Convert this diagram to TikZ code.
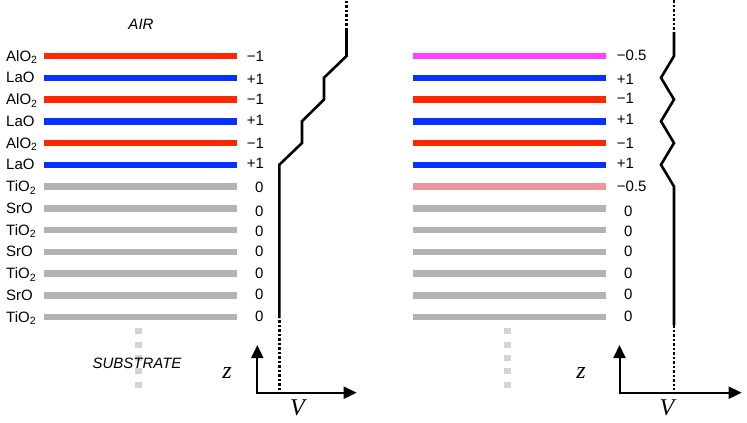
\documentclass[tikz,border=0pt]{standalone}
\usepackage{fontspec}
\setmainfont{Liberation Sans}
\newfontfamily\varfont{Liberation Serif}
\usepackage{xcolor}
\usepackage{tikz}
\usetikzlibrary{arrows.meta}

\definecolor{alored}{RGB}{255,38,0}
\definecolor{laoblue}{RGB}{4,51,255}
\definecolor{halfmag}{RGB}{255,64,255}
\definecolor{halfpink}{RGB}{239,148,155}
\definecolor{stogray}{RGB}{179,179,179}
\definecolor{subgray}{RGB}{212,212,212}

\begin{document}
\begin{tikzpicture}[
  x=1pt, y=-1pt,
  layer/.style={line width=6.5pt},
  film/.style={font=\fontsize{15}{17}\selectfont, anchor=base west, inner sep=0pt},
  charge/.style={font=\fontsize{15}{17}\selectfont, anchor=base west, inner sep=0pt},
  tag/.style={font=\fontsize{15}{17}\selectfont\itshape, anchor=base, inner sep=0pt},
  var/.style={font=\varfont\itshape\fontsize{24}{26}\selectfont, anchor=base, inner sep=0pt},
  pot/.style={line width=2.6pt, line join=miter},
  potdot/.style={line width=2.6pt, dash pattern=on 2.5pt off 2pt},
  sub/.style={line width=6.5pt, subgray, dash pattern=on 6pt off 7.3pt},
  axis/.style={line width=2pt, {Triangle[length=13pt,width=12pt]}-{Triangle[length=13pt,width=12pt]}}
]
\useasboundingbox (0,0) rectangle (747,423);

% Substrate continuation
\draw[sub] (138.7,328.3) -- (138.7,390);
\draw[sub] (507.5,328.3) -- (507.5,390);

% Left stack: layers
\draw[layer, alored]  (44.3,56)     -- (236.7,56);
\draw[layer, laoblue] (44.3,77.75)  -- (236.7,77.75);
\draw[layer, alored]  (44.3,99.5)   -- (236.7,99.5);
\draw[layer, laoblue] (44.3,121.25) -- (236.7,121.25);
\draw[layer, alored]  (44.3,143)    -- (236.7,143);
\draw[layer, laoblue] (44.3,164.75) -- (236.7,164.75);
\draw[layer, stogray] (44.3,186.5)  -- (236.7,186.5);
\draw[layer, stogray] (44.3,208.25) -- (236.7,208.25);
\draw[layer, stogray] (44.3,230)    -- (236.7,230);
\draw[layer, stogray] (44.3,251.75) -- (236.7,251.75);
\draw[layer, stogray] (44.3,273.5)  -- (236.7,273.5);
\draw[layer, stogray] (44.3,295.25) -- (236.7,295.25);
\draw[layer, stogray] (44.3,317)    -- (236.7,317);

% Right stack: layers
\draw[layer, halfmag]   (413.3,56)     -- (605.7,56);
\draw[layer, laoblue]   (413.3,77.75)  -- (605.7,77.75);
\draw[layer, alored]    (413.3,99.5)   -- (605.7,99.5);
\draw[layer, laoblue]   (413.3,121.25) -- (605.7,121.25);
\draw[layer, alored]    (413.3,143)    -- (605.7,143);
\draw[layer, laoblue]   (413.3,164.75) -- (605.7,164.75);
\draw[layer, halfpink]  (413.3,186.5)  -- (605.7,186.5);
\draw[layer, stogray]   (413.3,208.25) -- (605.7,208.25);
\draw[layer, stogray]   (413.3,230)    -- (605.7,230);
\draw[layer, stogray]   (413.3,251.75) -- (605.7,251.75);
\draw[layer, stogray]   (413.3,273.5)  -- (605.7,273.5);
\draw[layer, stogray]   (413.3,295.25) -- (605.7,295.25);
\draw[layer, stogray]   (413.3,317)    -- (605.7,317);

% Layer names
\node[film] (alo1) at (6,61.5)  {AlO\textsubscript{2}};
\node[film] (lao1) at (6,82.9)  {LaO};
\node[film] (alo2) at (6,104.8) {AlO\textsubscript{2}};
\node[film] (lao2) at (6,126.4) {LaO};
\node[film] (alo3) at (6,148.3) {AlO\textsubscript{2}};
\node[film] (lao3) at (6,169.9) {LaO};
\node[film] (tio1) at (6,191.8) {TiO\textsubscript{2}};
\node[film] (sro1) at (6,213.4) {SrO};
\node[film] (tio2) at (6,235.3) {TiO\textsubscript{2}};
\node[film] (sro2) at (6,256.9) {SrO};
\node[film] (tio3) at (6,278.8) {TiO\textsubscript{2}};
\node[film] (sro3) at (6,300.4) {SrO};
\node[film] (tio4) at (6,322.3) {TiO\textsubscript{2}};

% Left charges
\node[charge] (qa1) at (246.7,61.7)  {−1};
\node[charge] (qa2) at (246.7,84.3)  {+1};
\node[charge] (qa3) at (246.7,104.2) {−1};
\node[charge] (qa4) at (246.7,125.3) {+1};
\node[charge] (qa5) at (246.7,148.3) {−1};
\node[charge] (qa6) at (246.7,168.3) {+1};
\node[charge] (qa7) at (255,192.3)   {0};
\node[charge] (qa8) at (255,216.7)   {0};
\node[charge] (qa9) at (255,236.7)   {0};
\node[charge] (qa10) at (255,256.7)  {0};
\node[charge] (qa11) at (255,278.2)  {0};
\node[charge] (qa12) at (255,299.3)  {0};
\node[charge] (qa13) at (255,321.7)  {0};

% Right charges
\node[charge] (qb1) at (616.7,60.7)  {−0.5};
\node[charge] (qb2) at (616.7,84.3)  {+1};
\node[charge] (qb3) at (616.7,103.8) {−1};
\node[charge] (qb4) at (616.7,124.8) {+1};
\node[charge] (qb5) at (616.7,148.3) {−1};
\node[charge] (qb6) at (616.7,168.3) {+1};
\node[charge] (qb7) at (616.7,191.7) {−0.5};
\node[charge] (qb8) at (624,216.7)   {0};
\node[charge] (qb9) at (624,236.7)   {0};
\node[charge] (qb10) at (624,256.7)  {0};
\node[charge] (qb11) at (624,278.3)  {0};
\node[charge] (qb12) at (624,299.3)  {0};
\node[charge] (qb13) at (624,321.7)  {0};

% Media
\node[tag] (air) at (141,29.3) {AIR};
\node[tag] (substrate) at (137,368.3) {SUBSTRATE};

% Potential, polar stack
\draw[potdot] (279.3,390) -- (279.3,318);
\draw[pot] (279.3,318) -- (279.3,164.75) -- (302,143) -- (302,121.25) -- (324,99.5)
  -- (324,77.75) -- (346.5,56) -- (346.5,30);
\draw[potdot] (346.5,30) -- (346.5,0);

% Potential, compensated stack
\draw[potdot] (674,0) -- (674,32);
\draw[pot] (674,32) -- (674,56) -- (661,77.75) -- (674,99.5) -- (661,121.25)
  -- (674,143) -- (661,164.75) -- (674,186.5) -- (674,325);
\draw[potdot] (674,325) -- (674,390);

% Axes
\coordinate (zL) at (257.3,345);
\coordinate (oL) at (257.3,392.7);
\coordinate (vL) at (356.7,392.7);
\coordinate (zR) at (619.5,345);
\coordinate (oR) at (619.5,392.7);
\coordinate (vR) at (741.7,392.7);
\draw[axis] (zL) -- (oL) -- (vL);
\draw[axis] (zR) -- (oR) -- (vR);
\node[var] (zlabL) at (227,378.3) {z};
\node[var] (vlabL) at (297.5,415) {V};
\node[var] (zlabR) at (581,378.3) {z};
\node[var] (vlabR) at (667,415) {V};

\end{tikzpicture}
\end{document}
